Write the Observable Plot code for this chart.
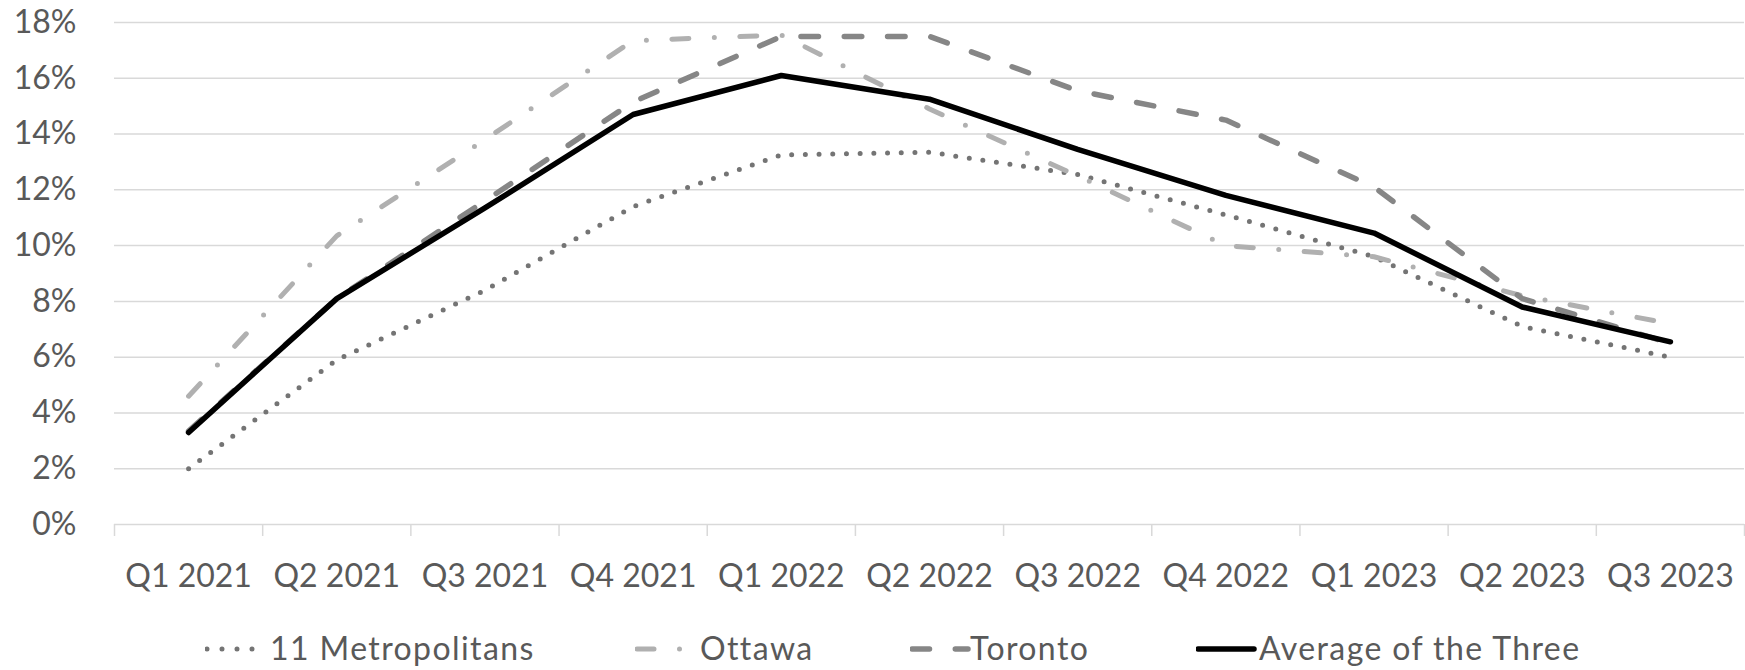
<!DOCTYPE html>
<html>
<head>
<meta charset="utf-8">
<script src="https://cdn.jsdelivr.net/npm/d3@7"></script>
<script src="https://cdn.jsdelivr.net/npm/@observablehq/plot@0.6"></script>
<style>
  html, body { margin: 0; padding: 0; background: #fff; }
  body { width: 1745px; height: 670px; overflow: hidden; font-family: Lato, "Open Sans", sans-serif; }
  #legend { position: relative; width: 1745px; height: 60px; }
  .item { position: absolute; top: 39px; transform: translateY(-50%); display: flex; align-items: center; }
  .lbl { position: absolute; top: 39px; transform: translateY(-52%); font-size: 32px; letter-spacing: 1.4px; color: #595959; white-space: nowrap; line-height: 1; }
</style>
</head>
<body>
<div id="chart"></div>
<div id="legend"></div>
<script>
// ---- data (percent) ----
const quarters = ["Q1 2021","Q2 2021","Q3 2021","Q4 2021","Q1 2022","Q2 2022","Q3 2022","Q4 2022","Q1 2023","Q2 2023","Q3 2023"];
const metropolitans = [2.0, 5.9, 8.4, 11.4, 13.25, 13.35, 12.55, 11.1, 9.6, 7.1, 6.0];
const ottawa        = [4.6, 10.35, 13.8, 17.35, 17.55, 14.9, 12.5, 10.0, 9.6, 8.2, 7.2];
const toronto       = [3.35, 8.1, 11.6, 15.15, 17.5, 17.5, 15.55, 14.5, 12.1, 8.1, 6.5];
const average       = [3.3, 8.1, 11.35, 14.7, 16.1, 15.25, 13.45, 11.8, 10.45, 7.8, 6.55];
const seriesNames = ["11 Metropolitans", "Ottawa", "Toronto", "Average of the Three"];
const yTicks = [0, 2, 4, 6, 8, 10, 12, 14, 16, 18];

// ---- styles ----
const styles = {
  "11 Metropolitans":     {stroke: "#747474", strokeWidth: 5,   dash: "0 13.7"},
  "Ottawa":               {stroke: "#b0b0b0", strokeWidth: 5,   dash: "17 25.5 0 25.5"},
  "Toronto":              {stroke: "#868686", strokeWidth: 5.5, dash: "17.5 25.8"},
  "Average of the Three": {stroke: "#000000", strokeWidth: 5.5, dash: null}
};

const valuesBySeries = [metropolitans, ottawa, toronto, average];
const table = (name, vals) => vals.map((v, i) => ({series: name, quarter: quarters[i], pos: i + 0.5, value: v}));

const lineMarks = seriesNames.map((name, k) => {
  const s = styles[name];
  return Plot.line(table(name, valuesBySeries[k]), {
    x: "pos", y: "value",
    stroke: s.stroke, strokeWidth: s.strokeWidth,
    strokeDasharray: s.dash || undefined,
    strokeLinecap: "round", strokeLinejoin: "round"
  });
});

const plot = Plot.plot({
  width: 1745,
  height: 610,
  marginLeft: 114,
  marginRight: 1,
  marginTop: 22,
  marginBottom: 86,
  style: {fontFamily: "Lato, 'Open Sans', sans-serif", fontSize: "32px", color: "#595959", background: "#fff", overflow: "visible"},
  x: {type: "linear", domain: [0, quarters.length]},
  y: {domain: [0, 18]},
  marks: [
    Plot.gridY({ticks: yTicks.filter(t => t > 0), stroke: "#d9d9d9", strokeOpacity: 1, strokeWidth: 1.5}),
    Plot.axisY({ticks: yTicks, tickSize: 0, tickPadding: 38, tickFormat: d => d + "%", label: null, fill: "#595959", fontSize: 32}),
    Plot.axisX({ticks: d3.range(0, quarters.length + 1), tickSize: 12, tickFormat: () => "", label: null, stroke: "#d9d9d9", strokeWidth: 1.5}),
    Plot.axisX({ticks: quarters.map((q, i) => i + 0.5), tickSize: 0, tickPadding: 40, tickFormat: d => quarters[Math.floor(d)], label: null, fill: "#595959", fontSize: 32}),
    Plot.ruleY([0], {stroke: "#d9d9d9", strokeWidth: 1.5}),
    ...lineMarks
  ]
});
document.getElementById("chart").appendChild(plot);

// ---- legend (HTML) ----
const legendLayout = {
  "11 Metropolitans":     {sample: 205, text: 270},
  "Ottawa":               {sample: 635, text: 700},
  "Toronto":              {sample: 910, text: 970},
  "Average of the Three": {sample: 1196, text: 1259}
};
const legend = document.getElementById("legend");
seriesNames.forEach(name => {
  const s = styles[name], L = legendLayout[name];
  const item = document.createElement("div");
  item.className = "item";
  item.style.left = L.sample + "px";
  const dotted = name === "11 Metropolitans";
  item.innerHTML = `<svg width="62" height="12"><line x1="2" x2="${dotted ? 50 : 58}" y1="6" y2="6" stroke="${s.stroke}" stroke-width="${s.strokeWidth}" stroke-linecap="round" ${s.dash ? `stroke-dasharray="${dotted ? "0 15" : s.dash}"` : ""}/></svg>`;
  legend.appendChild(item);
  const t = document.createElement("div");
  t.className = "lbl";
  t.style.left = L.text + "px";
  t.textContent = name;
  legend.appendChild(t);
});
</script>
</body>
</html>
